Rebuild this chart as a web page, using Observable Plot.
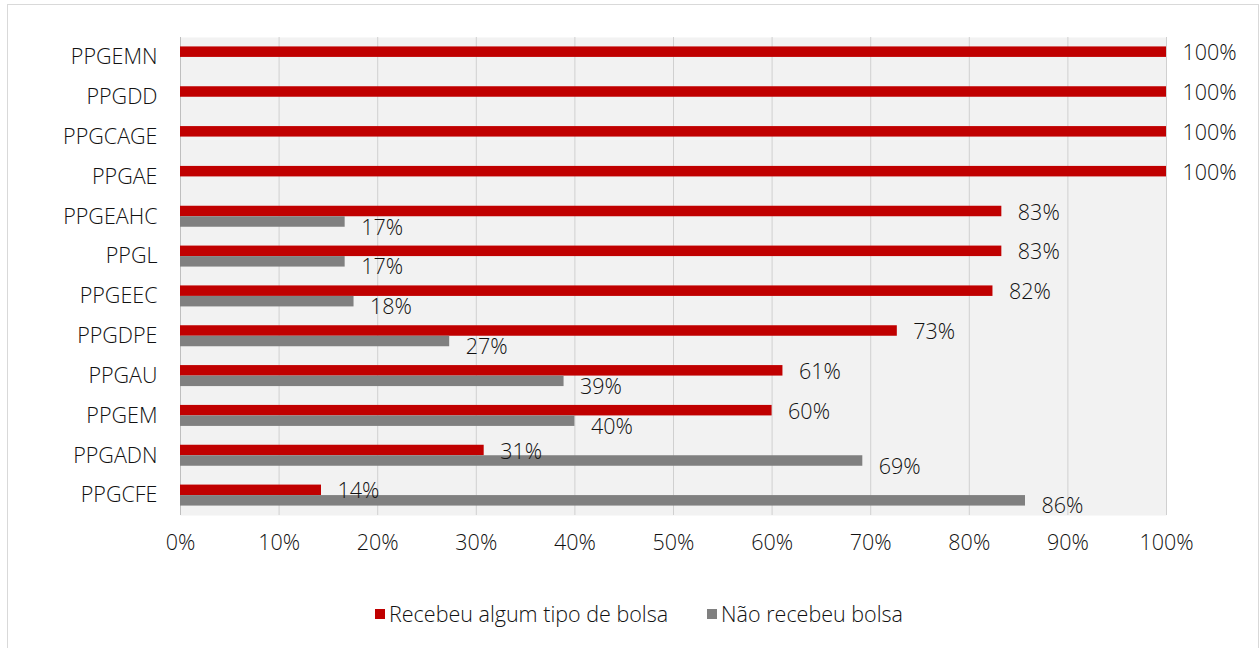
<!DOCTYPE html>
<html>
<head>
<meta charset="utf-8">
<script src="https://cdn.jsdelivr.net/npm/d3@7"></script>
<script src="https://cdn.jsdelivr.net/npm/@observablehq/plot@0.6"></script>
<style>
  html, body { margin: 0; padding: 0; background: #fff; }
  body { width: 1260px; height: 648px; position: relative; overflow: hidden; font-family: "Open Sans", Lato, sans-serif; font-weight: 300; }
  #frame { position: absolute; left: 7px; top: 4px; width: 1252px; height: 660px; border: 1px solid #d9d9d9; box-sizing: border-box; }
  #chart { position: absolute; left: 0; top: 0; }
  #legend { position: absolute; left: 0; top: 599px; width: 1260px; display: flex; justify-content: center; align-items: center; gap: 39px; font-size: 21.5px; color: #111; padding-left: 18px; box-sizing: border-box; }
  .item { display: flex; align-items: center; gap: 4px; }
  .sw { width: 10px; height: 10px; display: inline-block; }
</style>
</head>
<body>
<div id="frame"></div>
<div id="chart"></div>
<div id="legend"></div>
<script>
const categories = ["PPGEMN", "PPGDD", "PPGCAGE", "PPGAE", "PPGEAHC", "PPGL", "PPGEEC", "PPGDPE", "PPGAU", "PPGEM", "PPGADN", "PPGCFE"];
const recebeu = [100, 100, 100, 100, 83.3, 83.3, 82.4, 72.7, 61.1, 60, 30.8, 14.3];
const naoRecebeu = [0, 0, 0, 0, 16.7, 16.7, 17.6, 27.3, 38.9, 40, 69.2, 85.7];
const seriesNames = ["Recebeu algum tipo de bolsa", "Não recebeu bolsa"];
const seriesColors = ["#c00000", "#808080"];
const xTicks = [0, 10, 20, 30, 40, 50, 60, 70, 80, 90, 100];

const redData = categories.map((c, i) => ({cat: c, v: recebeu[i]}));
const grayData = categories.map((c, i) => ({cat: c, v: naoRecebeu[i]})).filter(d => d.v > 0);

const H = 580, mTop = 37, mBottom = H - 515;
const band = (H - mTop - mBottom) / categories.length;
const barH = 10.5;
const FONT = "'Open Sans', Lato, sans-serif";
const FS = 21.5;
const TXT = "#111";
const pct = d => Math.round(d.v) + "%";

const chart = Plot.plot({
  width: 1260,
  height: H,
  marginLeft: 180,
  marginRight: 94,
  marginTop: mTop,
  marginBottom: mBottom,
  style: {fontFamily: FONT, fontSize: FS + "px", fontWeight: 300, color: TXT, background: "transparent"},
  x: {domain: [0, 100], ticks: xTicks, tickFormat: d => d + "%"},
  y: {domain: categories, padding: 0, round: false},
  marks: [
    Plot.frame({fill: "#f2f2f2", stroke: null}),
    Plot.gridX(xTicks, {stroke: "#d0d0d0", strokeOpacity: 1}),
    Plot.ruleX([0], {stroke: "#bfbfbf"}),
    Plot.barX(redData, {x: "v", y: "cat", fill: seriesColors[0], insetTop: band / 2 - barH, insetBottom: band / 2}),
    Plot.barX(grayData, {x: "v", y: "cat", fill: seriesColors[1], insetTop: band / 2, insetBottom: band / 2 - barH}),
    Plot.text(redData, {x: "v", y: "cat", text: pct, textAnchor: "start", dx: 16, dy: -4, fill: TXT, fontSize: FS}),
    Plot.text(grayData, {x: "v", y: "cat", text: pct, textAnchor: "start", dx: 16, dy: 11, fill: TXT, fontSize: FS}),
    Plot.axisX({ticks: xTicks, tickSize: 0, tickPadding: 19, tickFormat: d => d + "%", label: null, fontSize: FS, fill: TXT}),
    Plot.axisY({tickSize: 0, tickPadding: 23, label: null, fontSize: FS, fill: TXT})
  ]
});
document.getElementById("chart").appendChild(chart);

const legend = document.getElementById("legend");
seriesNames.forEach((n, i) => {
  const it = document.createElement("div");
  it.className = "item";
  const sw = document.createElement("span");
  sw.className = "sw";
  sw.style.background = seriesColors[i];
  const t = document.createElement("span");
  t.textContent = n;
  it.appendChild(sw);
  it.appendChild(t);
  legend.appendChild(it);
});
</script>
</body>
</html>
